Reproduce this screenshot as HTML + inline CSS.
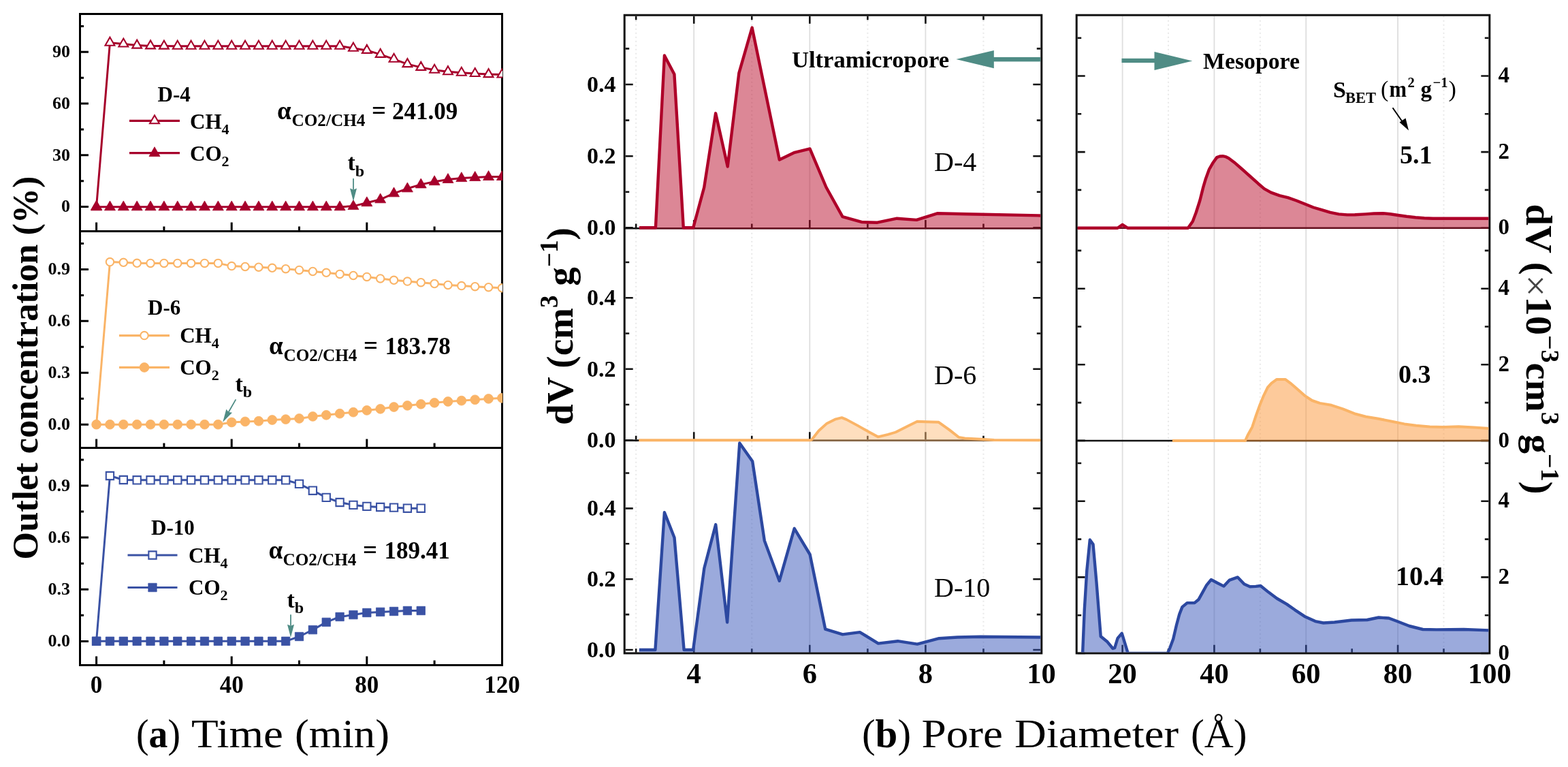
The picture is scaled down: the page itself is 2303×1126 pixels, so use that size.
<!DOCTYPE html>
<html><head><meta charset="utf-8"><title>Figure</title>
<style>html,body{margin:0;padding:0;background:#fff;width:2303px;height:1126px;overflow:hidden}svg{display:block}</style>
</head><body>
<svg width="2303" height="1126" viewBox="0 0 2303 1126" font-family="'Liberation Serif', 'Times New Roman', serif">
<rect width="2303" height="1126" fill="#fff"/>
<g id="panel-a">
<rect x="117.5" y="20.5" width="620.0" height="956" fill="none" stroke="#000" stroke-width="3"/>
<line x1="117.5" y1="339.5" x2="737.5" y2="339.5" stroke="#000" stroke-width="3"/>
<line x1="117.5" y1="657.5" x2="737.5" y2="657.5" stroke="#000" stroke-width="3"/>
<text x="103" y="311.3" font-size="26" font-weight="bold" text-anchor="end" >0</text>
<text x="103" y="235.57" font-size="26" font-weight="bold" text-anchor="end" >30</text>
<text x="103" y="159.84" font-size="26" font-weight="bold" text-anchor="end" >60</text>
<text x="103" y="84.1" font-size="26" font-weight="bold" text-anchor="end" >90</text>
<text x="103" y="631" font-size="26" font-weight="bold" text-anchor="end" >0.0</text>
<text x="103" y="555.07" font-size="26" font-weight="bold" text-anchor="end" >0.3</text>
<text x="103" y="479.14" font-size="26" font-weight="bold" text-anchor="end" >0.6</text>
<text x="103" y="403.21" font-size="26" font-weight="bold" text-anchor="end" >0.9</text>
<text x="103" y="949.2" font-size="26" font-weight="bold" text-anchor="end" >0.0</text>
<text x="103" y="873.06" font-size="26" font-weight="bold" text-anchor="end" >0.3</text>
<text x="103" y="796.92" font-size="26" font-weight="bold" text-anchor="end" >0.6</text>
<text x="103" y="720.78" font-size="26" font-weight="bold" text-anchor="end" >0.9</text>
<path d="M141.6 338V326.5M340.2 338V326.5M538.8 338V326.5M240.9 338V332.5M439.5 338V332.5M638.1 338V332.5M119 303.5H130M119 227.77H130M119 152.04H130M119 76.3H130M119 265.63H123M119 189.9H123M119 114.17H123M119 38.44H123M141.6 656V644.5M340.2 656V644.5M538.8 656V644.5M240.9 656V650.5M439.5 656V650.5M638.1 656V650.5M119 623.2H130M119 547.27H130M119 471.34H130M119 395.41H130M119 585.24H123M119 509.31H123M119 433.38H123M119 357.45H123M141.6 975V963.5M340.2 975V963.5M538.8 975V963.5M240.9 975V969.5M439.5 975V969.5M638.1 975V969.5M119 941.4H130M119 865.26H130M119 789.12H130M119 712.98H130M119 903.33H123M119 827.19H123M119 751.05H123M119 674.91H123" stroke="#000" stroke-width="3" fill="none"/>
<text x="141.6" y="1016.5" font-size="35" font-weight="bold" text-anchor="middle" >0</text>
<text x="340.2" y="1016.5" font-size="35" font-weight="bold" text-anchor="middle" >40</text>
<text x="538.8" y="1016.5" font-size="35" font-weight="bold" text-anchor="middle" >80</text>
<text x="737.4" y="1016.5" font-size="35" font-weight="bold" text-anchor="middle" >120</text>
<text transform="translate(54.5,821.5) rotate(-90)" x="0" y="0" font-size="52" font-weight="bold" textLength="563" lengthAdjust="spacingAndGlyphs">Outlet concentration (%)</text>
</g>
<clipPath id="ca0"><rect x="119" y="22" width="619.2" height="316"/></clipPath>
<clipPath id="ca1"><rect x="119" y="341" width="619.2" height="315"/></clipPath>
<clipPath id="ca2"><rect x="119" y="659" width="619.2" height="316"/></clipPath>
<g clip-path="url(#ca0)">
<path d="M141.6 303.5L161.46 62.7L181.32 64.5L201.18 66.6L221.04 67.4L240.9 67.6L260.76 67.7L280.62 67.7L300.48 67.7L320.34 67.7L340.2 67.7L360.06 67.7L379.92 67.7L399.78 67.7L419.64 67.7L439.5 67.7L459.36 67.7L479.22 67.7L499.08 67.7L518.94 70.7L538.8 73.9L558.66 79.9L578.52 86.8L598.38 94.1L618.24 98.9L638.1 102.8L657.96 105.2L677.82 106.8L697.68 108L717.54 109.1L737.4 109.5" fill="none" stroke="#A6002B" stroke-width="3.0" stroke-linejoin="round"/>
<path d="M141.6 295.5L148.53 307.5L134.67 307.5ZM161.46 54.7L168.39 66.7L154.53 66.7ZM181.32 56.5L188.25 68.5L174.39 68.5ZM201.18 58.6L208.11 70.6L194.25 70.6ZM221.04 59.4L227.97 71.4L214.11 71.4ZM240.9 59.6L247.83 71.6L233.97 71.6ZM260.76 59.7L267.69 71.7L253.83 71.7ZM280.62 59.7L287.55 71.7L273.69 71.7ZM300.48 59.7L307.41 71.7L293.55 71.7ZM320.34 59.7L327.27 71.7L313.41 71.7ZM340.2 59.7L347.13 71.7L333.27 71.7ZM360.06 59.7L366.99 71.7L353.13 71.7ZM379.92 59.7L386.85 71.7L372.99 71.7ZM399.78 59.7L406.71 71.7L392.85 71.7ZM419.64 59.7L426.57 71.7L412.71 71.7ZM439.5 59.7L446.43 71.7L432.57 71.7ZM459.36 59.7L466.29 71.7L452.43 71.7ZM479.22 59.7L486.15 71.7L472.29 71.7ZM499.08 59.7L506.01 71.7L492.15 71.7ZM518.94 62.7L525.87 74.7L512.01 74.7ZM538.8 65.9L545.73 77.9L531.87 77.9ZM558.66 71.9L565.59 83.9L551.73 83.9ZM578.52 78.8L585.45 90.8L571.59 90.8ZM598.38 86.1L605.31 98.1L591.45 98.1ZM618.24 90.9L625.17 102.9L611.31 102.9ZM638.1 94.8L645.03 106.8L631.17 106.8ZM657.96 97.2L664.89 109.2L651.03 109.2ZM677.82 98.8L684.75 110.8L670.89 110.8ZM697.68 100L704.61 112L690.75 112ZM717.54 101.1L724.47 113.1L710.61 113.1ZM737.4 101.5L744.33 113.5L730.47 113.5Z" fill="#fff" stroke="#A6002B" stroke-width="2.1" stroke-linejoin="miter"/>
<path d="M141.6 303.8L161.46 303.8L181.32 303.8L201.18 303.8L221.04 303.8L240.9 303.8L260.76 303.8L280.62 303.8L300.48 303.8L320.34 303.8L340.2 303.8L360.06 303.8L379.92 303.8L399.78 303.8L419.64 303.8L439.5 303.8L459.36 303.8L479.22 303.8L499.08 303.8L518.94 302.6L538.8 297.7L558.66 292.8L578.52 283.8L598.38 276.8L618.24 270.9L638.1 266.7L657.96 263.5L677.82 261.6L697.68 260.4L717.54 259.5L737.4 259.5" fill="none" stroke="#A6002B" stroke-width="3.0" stroke-linejoin="round"/>
<path d="M141.6 294.9L149.6 308.8L133.6 308.8ZM161.46 294.9L169.46 308.8L153.46 308.8ZM181.32 294.9L189.32 308.8L173.32 308.8ZM201.18 294.9L209.18 308.8L193.18 308.8ZM221.04 294.9L229.04 308.8L213.04 308.8ZM240.9 294.9L248.9 308.8L232.9 308.8ZM260.76 294.9L268.76 308.8L252.76 308.8ZM280.62 294.9L288.62 308.8L272.62 308.8ZM300.48 294.9L308.48 308.8L292.48 308.8ZM320.34 294.9L328.34 308.8L312.34 308.8ZM340.2 294.9L348.2 308.8L332.2 308.8ZM360.06 294.9L368.06 308.8L352.06 308.8ZM379.92 294.9L387.92 308.8L371.92 308.8ZM399.78 294.9L407.78 308.8L391.78 308.8ZM419.64 294.9L427.64 308.8L411.64 308.8ZM439.5 294.9L447.5 308.8L431.5 308.8ZM459.36 294.9L467.36 308.8L451.36 308.8ZM479.22 294.9L487.22 308.8L471.22 308.8ZM499.08 294.9L507.08 308.8L491.08 308.8ZM518.94 293.7L526.94 307.6L510.94 307.6ZM538.8 288.8L546.8 302.7L530.8 302.7ZM558.66 283.9L566.66 297.8L550.66 297.8ZM578.52 274.9L586.52 288.8L570.52 288.8ZM598.38 267.9L606.38 281.8L590.38 281.8ZM618.24 262L626.24 275.9L610.24 275.9ZM638.1 257.8L646.1 271.7L630.1 271.7ZM657.96 254.6L665.96 268.5L649.96 268.5ZM677.82 252.7L685.82 266.6L669.82 266.6ZM697.68 251.5L705.68 265.4L689.68 265.4ZM717.54 250.6L725.54 264.5L709.54 264.5ZM737.4 250.6L745.4 264.5L729.4 264.5Z" fill="#A6002B" stroke="#A6002B" stroke-width="0.8" stroke-linejoin="miter"/>
</g><g clip-path="url(#ca1)">
<path d="M141.6 623.2L161.46 384.6L181.32 385.3L201.18 386.3L221.04 386.4L240.9 386.4L260.76 386.4L280.62 386.4L300.48 386.4L320.34 386.4L340.2 390.6L360.06 391.5L379.92 392.2L399.78 393.3L419.64 394.7L439.5 396.4L459.36 398.5L479.22 400.3L499.08 402.4L518.94 404.5L538.8 406.4L558.66 408.9L578.52 411.3L598.38 413.1L618.24 414.7L638.1 416.5L657.96 418.4L677.82 419.6L697.68 420.7L717.54 421.7L737.4 422.8" fill="none" stroke="#FAB467" stroke-width="3.0" stroke-linejoin="round"/>
<path d="M135.9 623.2a5.7 5.7 0 1 0 11.4 0a5.7 5.7 0 1 0 -11.4 0ZM155.76 384.6a5.7 5.7 0 1 0 11.4 0a5.7 5.7 0 1 0 -11.4 0ZM175.62 385.3a5.7 5.7 0 1 0 11.4 0a5.7 5.7 0 1 0 -11.4 0ZM195.48 386.3a5.7 5.7 0 1 0 11.4 0a5.7 5.7 0 1 0 -11.4 0ZM215.34 386.4a5.7 5.7 0 1 0 11.4 0a5.7 5.7 0 1 0 -11.4 0ZM235.2 386.4a5.7 5.7 0 1 0 11.4 0a5.7 5.7 0 1 0 -11.4 0ZM255.06 386.4a5.7 5.7 0 1 0 11.4 0a5.7 5.7 0 1 0 -11.4 0ZM274.92 386.4a5.7 5.7 0 1 0 11.4 0a5.7 5.7 0 1 0 -11.4 0ZM294.78 386.4a5.7 5.7 0 1 0 11.4 0a5.7 5.7 0 1 0 -11.4 0ZM314.64 386.4a5.7 5.7 0 1 0 11.4 0a5.7 5.7 0 1 0 -11.4 0ZM334.5 390.6a5.7 5.7 0 1 0 11.4 0a5.7 5.7 0 1 0 -11.4 0ZM354.36 391.5a5.7 5.7 0 1 0 11.4 0a5.7 5.7 0 1 0 -11.4 0ZM374.22 392.2a5.7 5.7 0 1 0 11.4 0a5.7 5.7 0 1 0 -11.4 0ZM394.08 393.3a5.7 5.7 0 1 0 11.4 0a5.7 5.7 0 1 0 -11.4 0ZM413.94 394.7a5.7 5.7 0 1 0 11.4 0a5.7 5.7 0 1 0 -11.4 0ZM433.8 396.4a5.7 5.7 0 1 0 11.4 0a5.7 5.7 0 1 0 -11.4 0ZM453.66 398.5a5.7 5.7 0 1 0 11.4 0a5.7 5.7 0 1 0 -11.4 0ZM473.52 400.3a5.7 5.7 0 1 0 11.4 0a5.7 5.7 0 1 0 -11.4 0ZM493.38 402.4a5.7 5.7 0 1 0 11.4 0a5.7 5.7 0 1 0 -11.4 0ZM513.24 404.5a5.7 5.7 0 1 0 11.4 0a5.7 5.7 0 1 0 -11.4 0ZM533.1 406.4a5.7 5.7 0 1 0 11.4 0a5.7 5.7 0 1 0 -11.4 0ZM552.96 408.9a5.7 5.7 0 1 0 11.4 0a5.7 5.7 0 1 0 -11.4 0ZM572.82 411.3a5.7 5.7 0 1 0 11.4 0a5.7 5.7 0 1 0 -11.4 0ZM592.68 413.1a5.7 5.7 0 1 0 11.4 0a5.7 5.7 0 1 0 -11.4 0ZM612.54 414.7a5.7 5.7 0 1 0 11.4 0a5.7 5.7 0 1 0 -11.4 0ZM632.4 416.5a5.7 5.7 0 1 0 11.4 0a5.7 5.7 0 1 0 -11.4 0ZM652.26 418.4a5.7 5.7 0 1 0 11.4 0a5.7 5.7 0 1 0 -11.4 0ZM672.12 419.6a5.7 5.7 0 1 0 11.4 0a5.7 5.7 0 1 0 -11.4 0ZM691.98 420.7a5.7 5.7 0 1 0 11.4 0a5.7 5.7 0 1 0 -11.4 0ZM711.84 421.7a5.7 5.7 0 1 0 11.4 0a5.7 5.7 0 1 0 -11.4 0ZM731.7 422.8a5.7 5.7 0 1 0 11.4 0a5.7 5.7 0 1 0 -11.4 0Z" fill="#fff" stroke="#FAB467" stroke-width="2.1" stroke-linejoin="miter"/>
<path d="M141.6 623.2L161.46 623.2L181.32 623.2L201.18 623.2L221.04 623.2L240.9 623.2L260.76 623.2L280.62 623.2L300.48 623.2L320.34 623.2L340.2 620L360.06 618.9L379.92 618.2L399.78 616.5L419.64 615.6L439.5 614.4L459.36 611.4L479.22 609.3L499.08 607.2L518.94 605.2L538.8 602.4L558.66 600.3L578.52 597.5L598.38 595.4L618.24 593.3L638.1 591.3L657.96 589.5L677.82 588.2L697.68 586.8L717.54 585.4L737.4 584.3" fill="none" stroke="#FAB467" stroke-width="3.0" stroke-linejoin="round"/>
<path d="M134.7 623.2a6.9 6.9 0 1 0 13.8 0a6.9 6.9 0 1 0 -13.8 0ZM154.56 623.2a6.9 6.9 0 1 0 13.8 0a6.9 6.9 0 1 0 -13.8 0ZM174.42 623.2a6.9 6.9 0 1 0 13.8 0a6.9 6.9 0 1 0 -13.8 0ZM194.28 623.2a6.9 6.9 0 1 0 13.8 0a6.9 6.9 0 1 0 -13.8 0ZM214.14 623.2a6.9 6.9 0 1 0 13.8 0a6.9 6.9 0 1 0 -13.8 0ZM234 623.2a6.9 6.9 0 1 0 13.8 0a6.9 6.9 0 1 0 -13.8 0ZM253.86 623.2a6.9 6.9 0 1 0 13.8 0a6.9 6.9 0 1 0 -13.8 0ZM273.72 623.2a6.9 6.9 0 1 0 13.8 0a6.9 6.9 0 1 0 -13.8 0ZM293.58 623.2a6.9 6.9 0 1 0 13.8 0a6.9 6.9 0 1 0 -13.8 0ZM313.44 623.2a6.9 6.9 0 1 0 13.8 0a6.9 6.9 0 1 0 -13.8 0ZM333.3 620a6.9 6.9 0 1 0 13.8 0a6.9 6.9 0 1 0 -13.8 0ZM353.16 618.9a6.9 6.9 0 1 0 13.8 0a6.9 6.9 0 1 0 -13.8 0ZM373.02 618.2a6.9 6.9 0 1 0 13.8 0a6.9 6.9 0 1 0 -13.8 0ZM392.88 616.5a6.9 6.9 0 1 0 13.8 0a6.9 6.9 0 1 0 -13.8 0ZM412.74 615.6a6.9 6.9 0 1 0 13.8 0a6.9 6.9 0 1 0 -13.8 0ZM432.6 614.4a6.9 6.9 0 1 0 13.8 0a6.9 6.9 0 1 0 -13.8 0ZM452.46 611.4a6.9 6.9 0 1 0 13.8 0a6.9 6.9 0 1 0 -13.8 0ZM472.32 609.3a6.9 6.9 0 1 0 13.8 0a6.9 6.9 0 1 0 -13.8 0ZM492.18 607.2a6.9 6.9 0 1 0 13.8 0a6.9 6.9 0 1 0 -13.8 0ZM512.04 605.2a6.9 6.9 0 1 0 13.8 0a6.9 6.9 0 1 0 -13.8 0ZM531.9 602.4a6.9 6.9 0 1 0 13.8 0a6.9 6.9 0 1 0 -13.8 0ZM551.76 600.3a6.9 6.9 0 1 0 13.8 0a6.9 6.9 0 1 0 -13.8 0ZM571.62 597.5a6.9 6.9 0 1 0 13.8 0a6.9 6.9 0 1 0 -13.8 0ZM591.48 595.4a6.9 6.9 0 1 0 13.8 0a6.9 6.9 0 1 0 -13.8 0ZM611.34 593.3a6.9 6.9 0 1 0 13.8 0a6.9 6.9 0 1 0 -13.8 0ZM631.2 591.3a6.9 6.9 0 1 0 13.8 0a6.9 6.9 0 1 0 -13.8 0ZM651.06 589.5a6.9 6.9 0 1 0 13.8 0a6.9 6.9 0 1 0 -13.8 0ZM670.92 588.2a6.9 6.9 0 1 0 13.8 0a6.9 6.9 0 1 0 -13.8 0ZM690.78 586.8a6.9 6.9 0 1 0 13.8 0a6.9 6.9 0 1 0 -13.8 0ZM710.64 585.4a6.9 6.9 0 1 0 13.8 0a6.9 6.9 0 1 0 -13.8 0ZM730.5 584.3a6.9 6.9 0 1 0 13.8 0a6.9 6.9 0 1 0 -13.8 0Z" fill="#FAB467" stroke="#FAB467" stroke-width="0.8" stroke-linejoin="miter"/>
</g><g clip-path="url(#ca2)">
<path d="M141.6 941.4L161.46 698.5L181.32 704.5L201.18 704.8L221.04 704.8L240.9 704.8L260.76 704.8L280.62 704.8L300.48 704.8L320.34 704.8L340.2 704.8L360.06 704.8L379.92 704.8L399.78 704.8L419.64 704.8L439.5 710.4L459.36 720.2L479.22 730.4L499.08 737.5L518.94 741.4L538.8 743.4L558.66 744.5L578.52 745.1L598.38 746.2L618.24 746.2" fill="none" stroke="#3A52A4" stroke-width="3.0" stroke-linejoin="round"/>
<path d="M135.95 935.75h11.3v11.3h-11.3ZM155.81 692.85h11.3v11.3h-11.3ZM175.67 698.85h11.3v11.3h-11.3ZM195.53 699.15h11.3v11.3h-11.3ZM215.39 699.15h11.3v11.3h-11.3ZM235.25 699.15h11.3v11.3h-11.3ZM255.11 699.15h11.3v11.3h-11.3ZM274.97 699.15h11.3v11.3h-11.3ZM294.83 699.15h11.3v11.3h-11.3ZM314.69 699.15h11.3v11.3h-11.3ZM334.55 699.15h11.3v11.3h-11.3ZM354.41 699.15h11.3v11.3h-11.3ZM374.27 699.15h11.3v11.3h-11.3ZM394.13 699.15h11.3v11.3h-11.3ZM413.99 699.15h11.3v11.3h-11.3ZM433.85 704.75h11.3v11.3h-11.3ZM453.71 714.55h11.3v11.3h-11.3ZM473.57 724.75h11.3v11.3h-11.3ZM493.43 731.85h11.3v11.3h-11.3ZM513.29 735.75h11.3v11.3h-11.3ZM533.15 737.75h11.3v11.3h-11.3ZM553.01 738.85h11.3v11.3h-11.3ZM572.87 739.45h11.3v11.3h-11.3ZM592.73 740.55h11.3v11.3h-11.3ZM612.59 740.55h11.3v11.3h-11.3Z" fill="#fff" stroke="#3A52A4" stroke-width="2.1" stroke-linejoin="miter"/>
<path d="M141.6 941.3L161.46 941.3L181.32 941.3L201.18 941.3L221.04 941.3L240.9 941.3L260.76 941.3L280.62 941.3L300.48 941.3L320.34 941.3L340.2 941.3L360.06 941.3L379.92 941.3L399.78 941.3L419.64 941.3L439.5 934.5L459.36 924.6L479.22 913.4L499.08 905.5L518.94 902.6L538.8 899.5L558.66 898.4L578.52 897.5L598.38 896.5L618.24 896.5" fill="none" stroke="#3A52A4" stroke-width="3.0" stroke-linejoin="round"/>
<path d="M135.4 935.1h12.4v12.4h-12.4ZM155.26 935.1h12.4v12.4h-12.4ZM175.12 935.1h12.4v12.4h-12.4ZM194.98 935.1h12.4v12.4h-12.4ZM214.84 935.1h12.4v12.4h-12.4ZM234.7 935.1h12.4v12.4h-12.4ZM254.56 935.1h12.4v12.4h-12.4ZM274.42 935.1h12.4v12.4h-12.4ZM294.28 935.1h12.4v12.4h-12.4ZM314.14 935.1h12.4v12.4h-12.4ZM334 935.1h12.4v12.4h-12.4ZM353.86 935.1h12.4v12.4h-12.4ZM373.72 935.1h12.4v12.4h-12.4ZM393.58 935.1h12.4v12.4h-12.4ZM413.44 935.1h12.4v12.4h-12.4ZM433.3 928.3h12.4v12.4h-12.4ZM453.16 918.4h12.4v12.4h-12.4ZM473.02 907.2h12.4v12.4h-12.4ZM492.88 899.3h12.4v12.4h-12.4ZM512.74 896.4h12.4v12.4h-12.4ZM532.6 893.3h12.4v12.4h-12.4ZM552.46 892.2h12.4v12.4h-12.4ZM572.32 891.3h12.4v12.4h-12.4ZM592.18 890.3h12.4v12.4h-12.4ZM612.04 890.3h12.4v12.4h-12.4Z" fill="#3A52A4" stroke="#3A52A4" stroke-width="0.8" stroke-linejoin="miter"/>
</g>
<text x="231.5" y="149" font-size="31" font-weight="bold" text-anchor="start" >D-4</text>
<line x1="190" y1="177.3" x2="264" y2="177.3" stroke="#A6002B" stroke-width="3.2"/>
<path d="M227 169.3L233.93 181.3L220.07 181.3Z" fill="#fff" stroke="#A6002B" stroke-width="2.1"/>
<text x="279" y="188.8" font-size="31" font-weight="bold">CH<tspan font-size="22" dy="8.5">4</tspan></text>
<line x1="190" y1="224.6" x2="264" y2="224.6" stroke="#A6002B" stroke-width="3.2"/>
<path d="M227 215.7L235 229.6L219 229.6Z" fill="#A6002B" stroke="#A6002B" stroke-width="0.8"/>
<text x="279" y="235.7" font-size="31" font-weight="bold">CO<tspan font-size="22" dy="8.5">2</tspan></text>
<text x="217" y="462" font-size="31" font-weight="bold" text-anchor="start" >D-6</text>
<line x1="175" y1="492.6" x2="249" y2="492.6" stroke="#FAB467" stroke-width="3.2"/>
<path d="M206.3 492.6a5.7 5.7 0 1 0 11.4 0a5.7 5.7 0 1 0 -11.4 0Z" fill="#fff" stroke="#FAB467" stroke-width="2.1"/>
<text x="264.2" y="502.5" font-size="31" font-weight="bold">CH<tspan font-size="22" dy="8.5">4</tspan></text>
<line x1="175" y1="539.4" x2="249" y2="539.4" stroke="#FAB467" stroke-width="3.2"/>
<path d="M205.1 539.4a6.9 6.9 0 1 0 13.8 0a6.9 6.9 0 1 0 -13.8 0Z" fill="#FAB467" stroke="#FAB467" stroke-width="0.8"/>
<text x="264.2" y="549.7" font-size="31" font-weight="bold">CO<tspan font-size="22" dy="8.5">2</tspan></text>
<text x="222" y="785.4" font-size="31" font-weight="bold" text-anchor="start" >D-10</text>
<line x1="187.5" y1="815" x2="260.5" y2="815" stroke="#3A52A4" stroke-width="3.2"/>
<path d="M218.35 809.35h11.3v11.3h-11.3Z" fill="#fff" stroke="#3A52A4" stroke-width="2.1"/>
<text x="277" y="825.8" font-size="31" font-weight="bold">CH<tspan font-size="22" dy="8.5">4</tspan></text>
<line x1="187.5" y1="862.5" x2="260.5" y2="862.5" stroke="#3A52A4" stroke-width="3.2"/>
<path d="M217.8 856.3h12.4v12.4h-12.4Z" fill="#3A52A4" stroke="#3A52A4" stroke-width="0.8"/>
<text x="277" y="872.7" font-size="31" font-weight="bold">CO<tspan font-size="22" dy="8.5">2</tspan></text>
<text x="407" y="175" font-size="37" font-weight="bold" text-anchor="start" >α</text>
<text x="428.5" y="184.7" font-size="25.5" font-weight="bold" text-anchor="start" textLength="108" lengthAdjust="spacingAndGlyphs">CO2/CH4</text>
<text x="546" y="175" font-size="37" font-weight="bold" text-anchor="start" textLength="21" lengthAdjust="spacingAndGlyphs">=</text>
<text x="576" y="175" font-size="35" font-weight="bold" text-anchor="start" >241.09</text>
<text x="395" y="519.7" font-size="37" font-weight="bold" text-anchor="start" >α</text>
<text x="416.5" y="529.9" font-size="25.5" font-weight="bold" text-anchor="start" textLength="108" lengthAdjust="spacingAndGlyphs">CO2/CH4</text>
<text x="534" y="519.7" font-size="37" font-weight="bold" text-anchor="start" textLength="21" lengthAdjust="spacingAndGlyphs">=</text>
<text x="565.5" y="519.7" font-size="35" font-weight="bold" text-anchor="start" >183.78</text>
<text x="394.5" y="819.7" font-size="37" font-weight="bold" text-anchor="start" >α</text>
<text x="415.5" y="829.9" font-size="25.5" font-weight="bold" text-anchor="start" textLength="108" lengthAdjust="spacingAndGlyphs">CO2/CH4</text>
<text x="533" y="819.7" font-size="37" font-weight="bold" text-anchor="start" textLength="21" lengthAdjust="spacingAndGlyphs">=</text>
<text x="564.5" y="819.7" font-size="35" font-weight="bold" text-anchor="start" >189.41</text>
<text x="510.5" y="250" font-size="34" font-weight="bold">t<tspan font-size="24" dy="8.5">b</tspan></text>
<text x="345.5" y="574.5" font-size="34" font-weight="bold">t<tspan font-size="24" dy="8.5">b</tspan></text>
<text x="421.5" y="891.6" font-size="34" font-weight="bold">t<tspan font-size="24" dy="8.5">b</tspan></text>
<line x1="519" y1="262" x2="519" y2="278.5" stroke="#4F8C85" stroke-width="1.8"/>
<path d="M519 295.5L514 276.5L519 278.5L524 276.5Z" fill="#4F8C85"/>
<line x1="346.4" y1="586.4" x2="335.69" y2="604.97" stroke="#4F8C85" stroke-width="1.8"/>
<path d="M327.2 619.7L332.36 600.74L335.69 604.97L341.02 605.74Z" fill="#4F8C85"/>
<line x1="427" y1="902.3" x2="427" y2="918.8" stroke="#4F8C85" stroke-width="1.8"/>
<path d="M427 935.8L422 916.8L427 918.8L432 916.8Z" fill="#4F8C85"/>
<g id="panel-b">
<clipPath id="cl"><rect x="918.7" y="23.7" width="609.6" height="933.8"/></clipPath>
<clipPath id="cr"><rect x="1582.7" y="23.7" width="603.6" height="933.8"/></clipPath>
<path d="M1019.2 23.7V957.5M1189.3 23.7V957.5M1359.4 23.7V957.5M1648.61 23.7V957.5M1783.43 23.7V957.5M1918.25 23.7V957.5M2053.07 23.7V957.5" stroke="#dedede" stroke-width="1.8" fill="none"/>
<path d="M934.15 23.7V957.5M1104.25 23.7V957.5M1274.35 23.7V957.5M1444.45 23.7V957.5M1716.02 23.7V957.5M1850.84 23.7V957.5M2120.48 23.7V957.5" stroke="#e8e8e8" stroke-width="2" stroke-dasharray="2 4" fill="none"/>
<rect x="917.2" y="22.2" width="612.6" height="936.8" fill="none" stroke="#111" stroke-width="3"/>
<rect x="1581.2" y="22.2" width="606.6" height="936.8" fill="none" stroke="#111" stroke-width="3"/>
<line x1="917.2" y1="335.2" x2="1529.8" y2="335.2" stroke="#111" stroke-width="2.6"/>
<line x1="1581.2" y1="334.7" x2="2187.8" y2="334.7" stroke="#111" stroke-width="2.4"/>
<line x1="917.2" y1="646.6" x2="1529.8" y2="646.6" stroke="#111" stroke-width="2.6"/>
<line x1="1581.2" y1="647.0" x2="2187.8" y2="647.0" stroke="#111" stroke-width="2.4"/>
<path d="M934.15 23.7v5.5M934.15 333.9v-5.5M934.15 645.3v-5.5M934.15 957.7v-5.5M1019.2 23.7v11M1019.2 333.9v-11M1019.2 645.3v-11M1019.2 957.7v-11M1104.25 23.7v5.5M1104.25 333.9v-5.5M1104.25 645.3v-5.5M1104.25 957.7v-5.5M1189.3 23.7v11M1189.3 333.9v-11M1189.3 645.3v-11M1189.3 957.7v-11M1274.35 23.7v5.5M1274.35 333.9v-5.5M1274.35 645.3v-5.5M1274.35 957.7v-5.5M1359.4 23.7v11M1359.4 333.9v-11M1359.4 645.3v-11M1359.4 957.7v-11M1444.45 23.7v5.5M1444.45 333.9v-5.5M1444.45 645.3v-5.5M1444.45 957.7v-5.5M1648.61 957.7v-11M1716.02 957.7v-5.5M1783.43 957.7v-11M1850.84 957.7v-5.5M1918.25 957.7v-11M1985.66 957.7v-5.5M2053.07 957.7v-11M2120.48 957.7v-5.5M918.7 334.4h11M1528.3 334.4h-11M1582.7 334.7h11M2186.3 334.7h-11M918.7 281.8h5.5M1528.3 281.8h-5.5M1582.7 278.9h5.5M2186.3 278.9h-5.5M918.7 229.2h11M1528.3 229.2h-11M1582.7 223.1h11M2186.3 223.1h-11M918.7 176.6h5.5M1528.3 176.6h-5.5M1582.7 167.3h5.5M2186.3 167.3h-5.5M918.7 124h11M1528.3 124h-11M1582.7 111.5h11M2186.3 111.5h-11M918.7 71.4h5.5M1528.3 71.4h-5.5M1582.7 55.7h5.5M2186.3 55.7h-5.5M918.7 646.3h11M1528.3 646.3h-11M1582.7 646.9h11M2186.3 646.9h-11M918.7 594.05h5.5M1528.3 594.05h-5.5M1582.7 591.1h5.5M2186.3 591.1h-5.5M918.7 541.8h11M1528.3 541.8h-11M1582.7 535.3h11M2186.3 535.3h-11M918.7 489.55h5.5M1528.3 489.55h-5.5M1582.7 479.5h5.5M2186.3 479.5h-5.5M918.7 437.3h11M1528.3 437.3h-11M1582.7 423.7h11M2186.3 423.7h-11M918.7 385.05h5.5M1528.3 385.05h-5.5M1582.7 367.9h5.5M2186.3 367.9h-5.5M918.7 954h11M1528.3 954h-11M1582.7 959h11M2186.3 959h-11M918.7 902.1h5.5M1528.3 902.1h-5.5M1582.7 903.2h5.5M2186.3 903.2h-5.5M918.7 850.2h11M1528.3 850.2h-11M1582.7 847.4h11M2186.3 847.4h-11M918.7 798.3h5.5M1528.3 798.3h-5.5M1582.7 791.6h5.5M2186.3 791.6h-5.5M918.7 746.4h11M1528.3 746.4h-11M1582.7 735.8h11M2186.3 735.8h-11M918.7 694.5h5.5M1528.3 694.5h-5.5M1582.7 680h5.5M2186.3 680h-5.5" stroke="#111" stroke-width="2.6" fill="none"/>
<text x="904.5" y="345.2" font-size="34" font-weight="bold" text-anchor="end" >0.0</text>
<text x="904.5" y="240" font-size="34" font-weight="bold" text-anchor="end" >0.2</text>
<text x="904.5" y="134.8" font-size="34" font-weight="bold" text-anchor="end" >0.4</text>
<text x="2200.5" y="344.3" font-size="33" font-weight="bold" text-anchor="start" >0</text>
<text x="2200.5" y="232.7" font-size="33" font-weight="bold" text-anchor="start" >2</text>
<text x="2200.5" y="121.1" font-size="33" font-weight="bold" text-anchor="start" >4</text>
<text x="904.5" y="657.1" font-size="34" font-weight="bold" text-anchor="end" >0.0</text>
<text x="904.5" y="552.6" font-size="34" font-weight="bold" text-anchor="end" >0.2</text>
<text x="904.5" y="448.1" font-size="34" font-weight="bold" text-anchor="end" >0.4</text>
<text x="2200.5" y="656.5" font-size="33" font-weight="bold" text-anchor="start" >0</text>
<text x="2200.5" y="544.9" font-size="33" font-weight="bold" text-anchor="start" >2</text>
<text x="2200.5" y="433.3" font-size="33" font-weight="bold" text-anchor="start" >4</text>
<text x="904.5" y="964.8" font-size="34" font-weight="bold" text-anchor="end" >0.0</text>
<text x="904.5" y="861" font-size="34" font-weight="bold" text-anchor="end" >0.2</text>
<text x="904.5" y="757.2" font-size="34" font-weight="bold" text-anchor="end" >0.4</text>
<text x="2200.5" y="968.6" font-size="33" font-weight="bold" text-anchor="start" >0</text>
<text x="2200.5" y="857" font-size="33" font-weight="bold" text-anchor="start" >2</text>
<text x="2200.5" y="745.4" font-size="33" font-weight="bold" text-anchor="start" >4</text>
<text x="1019.2" y="1003" font-size="42.5" font-weight="bold" text-anchor="middle" >4</text>
<text x="1189.3" y="1003" font-size="42.5" font-weight="bold" text-anchor="middle" >6</text>
<text x="1359.4" y="1003" font-size="42.5" font-weight="bold" text-anchor="middle" >8</text>
<text x="1529.5" y="1003" font-size="42.5" font-weight="bold" text-anchor="middle" >10</text>
<text x="1648.61" y="1003" font-size="42.5" font-weight="bold" text-anchor="middle" >20</text>
<text x="1783.43" y="1003" font-size="42.5" font-weight="bold" text-anchor="middle" >40</text>
<text x="1918.25" y="1003" font-size="42.5" font-weight="bold" text-anchor="middle" >60</text>
<text x="2053.07" y="1003" font-size="42.5" font-weight="bold" text-anchor="middle" >80</text>
<text x="2187.89" y="1003" font-size="42.5" font-weight="bold" text-anchor="middle" >100</text>
<g clip-path="url(#cl)">
<path d="M938.9 336.5L938.9 334.3L962.9 334.3L975.9 81.5L990.4 109L1003.8 334.3L1018.2 334.3L1034.2 275L1051.1 166.3L1068.7 244.6L1085.4 107.1L1104.6 40.5L1144.8 234.5L1167.1 223.8L1189.5 218.4L1213.5 275L1237.5 318.1L1266.2 326.1L1288.6 326.7L1317.4 320.7L1346.2 322.9L1376.5 313.3L1419.7 314.3L1529.8 316.5L1529.8 336.5Z" fill="#B90F2D" fill-opacity="0.5" stroke="none"/>
<path d="M938.4 647.9L938.4 646.3L1190.5 646.3L1192.4 645.2L1202.6 632.3L1213.9 622.1L1227.4 615.3L1236.4 613.1L1243.2 615.9L1259 624.4L1276 634L1289.5 641.3L1304.2 637.9L1315.5 634.5L1332.4 626L1347.1 618.7L1360.6 619.3L1378.7 619.8L1394.5 631.1L1408 641.8L1417.1 643.5L1440 644.7L1460 646L1529.8 646.3L1529.8 647.9Z" fill="#FDBD7D" fill-opacity="0.5" stroke="none"/>
<path d="M938.8 959L938.8 954L962.4 954L975.9 752.2L990.5 789.3L1004.6 954L1018.1 954L1034.3 834.2L1051.2 770.1L1068.1 913.5L1086.3 650.5L1105.2 677.3L1122.8 793.7L1144.7 852.8L1166.7 775.8L1189.6 814L1212.2 923.7L1237.6 931.4L1262.9 928.1L1289.9 944.6L1318.6 941.2L1347.3 945.6L1379.3 937.2L1406.3 935.5L1440.1 934.8L1529.8 935.5L1529.8 959Z" fill="#3755B9" fill-opacity="0.5" stroke="none"/>
<path d="M938.9 334.3L962.9 334.3L975.9 81.5L990.4 109L1003.8 334.3L1018.2 334.3L1034.2 275L1051.1 166.3L1068.7 244.6L1085.4 107.1L1104.6 40.5L1144.8 234.5L1167.1 223.8L1189.5 218.4L1213.5 275L1237.5 318.1L1266.2 326.1L1288.6 326.7L1317.4 320.7L1346.2 322.9L1376.5 313.3L1419.7 314.3L1529.8 316.5" fill="none" stroke="#AE0029" stroke-width="4.4" stroke-linejoin="round" stroke-linecap="butt"/>
<path d="M938.4 646.3L1190.5 646.3L1192.4 645.2L1202.6 632.3L1213.9 622.1L1227.4 615.3L1236.4 613.1L1243.2 615.9L1259 624.4L1276 634L1289.5 641.3L1304.2 637.9L1315.5 634.5L1332.4 626L1347.1 618.7L1360.6 619.3L1378.7 619.8L1394.5 631.1L1408 641.8L1417.1 643.5L1440 644.7L1460 646L1529.8 646.3" fill="none" stroke="#FAB467" stroke-width="3.9" stroke-linejoin="round" stroke-linecap="butt"/>
<path d="M938.8 954L962.4 954L975.9 752.2L990.5 789.3L1004.6 954L1018.1 954L1034.3 834.2L1051.2 770.1L1068.1 913.5L1086.3 650.5L1105.2 677.3L1122.8 793.7L1144.7 852.8L1166.7 775.8L1189.6 814L1212.2 923.7L1237.6 931.4L1262.9 928.1L1289.9 944.6L1318.6 941.2L1347.3 945.6L1379.3 937.2L1406.3 935.5L1440.1 934.8L1529.8 935.5" fill="none" stroke="#2C48A0" stroke-width="4.4" stroke-linejoin="round" stroke-linecap="butt"/>
</g>
<g clip-path="url(#cr)">
<path d="M1581.2 336L1581.2 334.7L1641.5 334.7L1648.6 329.8L1656 334.7L1744.9 334.7L1751.8 325L1756.7 312L1762.3 294.5L1767.3 274.6L1771 262.2L1776 248.5L1781 239.8L1787.2 231.1L1791.5 229.5L1795.9 229.2L1800.5 230.2L1804.6 232.3L1814.6 239.8L1824.5 248.5L1835.7 258.5L1848.2 269.7L1856.9 277.1L1866.8 282.7L1879.3 287.1L1891.7 290.2L1904.1 294.5L1916.6 299.5L1929 304.5L1941.4 308.2L1953.9 311.9L1966.3 314.4L1978.8 315.4L1990 315.2L2005.5 314.4L2018 313.5L2031.1 313.2L2042 314.3L2053.5 316L2066 317.8L2079.1 319.3L2092 320.3L2104.7 320.8L2188.6 320.8L2188.6 336Z" fill="#B90F2D" fill-opacity="0.5" stroke="none"/>
<path d="M1721.9 648.3L1721.9 646.9L1829 646.9L1832.4 639.3L1839.2 626.9L1844.8 610L1850.5 594.2L1856.1 580.6L1861.8 568.8L1867.4 562.6L1875.3 556.9L1887.7 556.9L1896.8 563.7L1905.8 571.6L1916 580.6L1927.2 588L1938.5 591.9L1955.5 594.8L1972.4 600.4L1989.3 607.2L2006.3 611.7L2023.2 614.5L2045.8 619L2062.7 622.4L2080 624.7L2100 626.5L2119.9 626.9L2142.3 626.3L2165 627.5L2188.6 629.1L2188.6 648.3Z" fill="#FB9537" fill-opacity="0.5" stroke="none"/>
<path d="M1590.1 960.5L1590.1 959L1592.8 894.3L1596.3 837.5L1600.8 792.5L1605.5 799L1610.5 855.2L1616.7 934.3L1626.5 942.3L1634.5 952L1637.2 951.1L1641.6 936.9L1647.8 929.8L1656.7 959L1714.8 959L1718.4 951.1L1723.2 937.9L1728 917.5L1732.2 901.9L1736.4 891.1L1743.6 885.1L1754.4 885.1L1760.3 880.3L1766.3 869.6L1772.3 858.8L1778.9 851L1787.9 855.8L1797.5 860.6L1805.9 851.6L1817.9 847.4L1827.5 857.6L1835.9 861.2L1844.3 860.9L1851.5 860L1863.4 869.6L1875.4 878.5L1889.8 886.9L1901.8 895.3L1916.2 904.9L1931.8 912.1L1943.8 914.5L1960 913.5L1985 910.5L2008 910L2024.9 906.5L2039.9 907.5L2051.9 912L2069.9 919L2089.8 924L2109.8 924.4L2149.8 924L2188.6 925.4L2188.6 960.5Z" fill="#3755B9" fill-opacity="0.5" stroke="none"/>
<path d="M1581.2 334.7L1641.5 334.7L1648.6 329.8L1656 334.7L1744.9 334.7L1751.8 325L1756.7 312L1762.3 294.5L1767.3 274.6L1771 262.2L1776 248.5L1781 239.8L1787.2 231.1L1791.5 229.5L1795.9 229.2L1800.5 230.2L1804.6 232.3L1814.6 239.8L1824.5 248.5L1835.7 258.5L1848.2 269.7L1856.9 277.1L1866.8 282.7L1879.3 287.1L1891.7 290.2L1904.1 294.5L1916.6 299.5L1929 304.5L1941.4 308.2L1953.9 311.9L1966.3 314.4L1978.8 315.4L1990 315.2L2005.5 314.4L2018 313.5L2031.1 313.2L2042 314.3L2053.5 316L2066 317.8L2079.1 319.3L2092 320.3L2104.7 320.8L2188.6 320.8" fill="none" stroke="#AE0029" stroke-width="4.4" stroke-linejoin="round" stroke-linecap="butt"/>
<path d="M1721.9 646.9L1829 646.9L1832.4 639.3L1839.2 626.9L1844.8 610L1850.5 594.2L1856.1 580.6L1861.8 568.8L1867.4 562.6L1875.3 556.9L1887.7 556.9L1896.8 563.7L1905.8 571.6L1916 580.6L1927.2 588L1938.5 591.9L1955.5 594.8L1972.4 600.4L1989.3 607.2L2006.3 611.7L2023.2 614.5L2045.8 619L2062.7 622.4L2080 624.7L2100 626.5L2119.9 626.9L2142.3 626.3L2165 627.5L2188.6 629.1" fill="none" stroke="#FAB467" stroke-width="4.0" stroke-linejoin="round" stroke-linecap="butt"/>
<path d="M1590.1 959L1592.8 894.3L1596.3 837.5L1600.8 792.5L1605.5 799L1610.5 855.2L1616.7 934.3L1626.5 942.3L1634.5 952L1637.2 951.1L1641.6 936.9L1647.8 929.8L1656.7 959L1714.8 959L1718.4 951.1L1723.2 937.9L1728 917.5L1732.2 901.9L1736.4 891.1L1743.6 885.1L1754.4 885.1L1760.3 880.3L1766.3 869.6L1772.3 858.8L1778.9 851L1787.9 855.8L1797.5 860.6L1805.9 851.6L1817.9 847.4L1827.5 857.6L1835.9 861.2L1844.3 860.9L1851.5 860L1863.4 869.6L1875.4 878.5L1889.8 886.9L1901.8 895.3L1916.2 904.9L1931.8 912.1L1943.8 914.5L1960 913.5L1985 910.5L2008 910L2024.9 906.5L2039.9 907.5L2051.9 912L2069.9 919L2089.8 924L2109.8 924.4L2149.8 924L2188.6 925.4" fill="none" stroke="#2C48A0" stroke-width="4.4" stroke-linejoin="round" stroke-linecap="butt"/>
</g>
<text x="1372" y="251" font-size="40" font-weight="normal" text-anchor="start" >D-4</text>
<text x="1372" y="563.5" font-size="40" font-weight="normal" text-anchor="start" >D-6</text>
<text x="1372" y="875.5" font-size="40" font-weight="normal" text-anchor="start" >D-10</text>
<text x="2056" y="240" font-size="38" font-weight="bold" text-anchor="start" >5.1</text>
<text x="2054" y="562" font-size="38" font-weight="bold" text-anchor="start" >0.3</text>
<text x="2050" y="859" font-size="40" font-weight="bold" text-anchor="start" >10.4</text>
<text x="1163" y="99.3" font-size="34" font-weight="bold" text-anchor="start" textLength="231" lengthAdjust="spacingAndGlyphs">Ultramicropore</text>
<text x="1767" y="100.8" font-size="34" font-weight="bold" text-anchor="start" textLength="142" lengthAdjust="spacingAndGlyphs">Mesopore</text>
<path d="M1404.3 87L1459.8 74L1459.8 100.2Z" fill="#4F8C85"/>
<rect x="1459" y="83.9" width="69.3" height="6.5" fill="#4F8C85"/>
<path d="M1751.3 89.4L1695.5 76L1695.5 103Z" fill="#4F8C85"/>
<rect x="1647.5" y="85.8" width="48.5" height="6.3" fill="#4F8C85"/>
<text x="1958" y="142.5" font-size="34" font-weight="bold" text-anchor="start" >S</text>
<text x="1976" y="151.3" font-size="22.5" font-weight="bold" text-anchor="start" textLength="45" lengthAdjust="spacingAndGlyphs">BET</text>
<text x="2028" y="142.3" font-size="34" font-weight="normal">(</text>
<text x="2040.5" y="142.3" font-size="33" font-weight="bold" text-anchor="start" textLength="25.5" lengthAdjust="spacingAndGlyphs">m</text>
<text x="2067.5" y="127.6" font-size="20.5" font-weight="bold" text-anchor="start" >2</text>
<text x="2086.5" y="142.3" font-size="33" font-weight="bold" text-anchor="start" >g</text>
<text x="2104.5" y="127.6" font-size="20.5" font-weight="bold" text-anchor="start" >−1</text>
<text x="2127.5" y="142.3" font-size="34" font-weight="normal">)</text>
<line x1="2045.5" y1="158.2" x2="2061" y2="180.5" stroke="#000" stroke-width="2"/>
<path d="M2069 191.5L2055.5 179.5L2064.5 173.5Z" fill="#000"/>
<text transform="translate(841,624) rotate(-90)" font-size="55" font-weight="bold" textLength="290" lengthAdjust="spacingAndGlyphs">dV (cm<tspan font-size="37" dy="-22">3</tspan><tspan dy="22"> g</tspan><tspan font-size="37" dy="-22">−1</tspan><tspan dy="22">)</tspan></text>
<text transform="translate(2241.5,299.5) rotate(90)" font-size="55" font-weight="bold" textLength="426" lengthAdjust="spacingAndGlyphs">dV (<tspan font-weight="normal" fill="#444" dy="5">×</tspan><tspan dy="-5">10</tspan><tspan font-size="37" dy="-22">−3</tspan><tspan dy="22">cm</tspan><tspan font-size="37" dy="-22">3</tspan><tspan dy="22"> g</tspan><tspan font-size="37" dy="-22">−1</tspan><tspan dy="22">)</tspan></text>
</g>
<text x="200" y="1097" font-size="60" textLength="65" lengthAdjust="spacingAndGlyphs">(<tspan font-weight="bold">a</tspan>)</text>
<text x="281" y="1097" font-size="60" font-weight="normal" textLength="135" lengthAdjust="spacingAndGlyphs">Time</text>
<text x="433" y="1097" font-size="60" font-weight="normal" textLength="139" lengthAdjust="spacingAndGlyphs">(min)</text>
<text x="1266" y="1097" font-size="60" textLength="72" lengthAdjust="spacingAndGlyphs">(<tspan font-weight="bold">b</tspan>)</text>
<text x="1353.5" y="1097" font-size="60" font-weight="normal" textLength="119.5" lengthAdjust="spacingAndGlyphs">Pore</text>
<text x="1490" y="1097" font-size="60" font-weight="normal" textLength="241" lengthAdjust="spacingAndGlyphs">Diameter</text>
<text x="1749" y="1097" font-size="60" font-weight="normal" textLength="82.5" lengthAdjust="spacingAndGlyphs">(Å)</text>
</svg>
</body></html>
